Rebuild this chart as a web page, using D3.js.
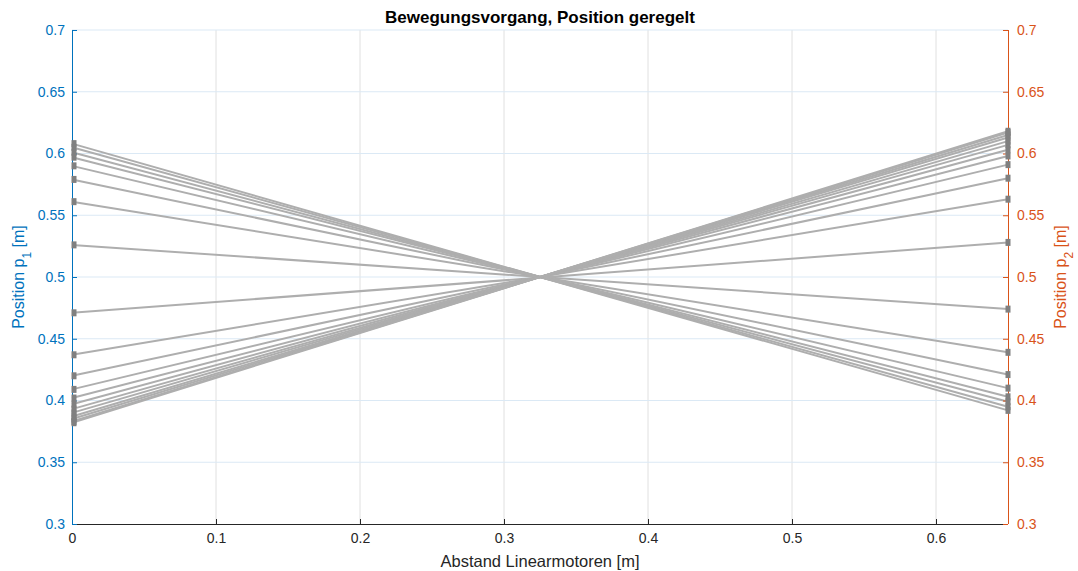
<!DOCTYPE html>
<html>
<head>
<meta charset="utf-8">
<script src="https://cdn.jsdelivr.net/npm/d3@7"></script>
<style>
  body { margin: 0; background: #fff; }
  svg { display: block; font-family: "Liberation Sans", Arial, Helvetica, sans-serif; }
</style>
</head>
<body>
<svg id="chart" width="1078" height="571"></svg>
<script>
// Motor distance (x) and start positions p1 of each run; p2 mirrors p1 about 0.5
const distance = [0, 0.65];
const p1Start = [0.608, 0.605, 0.601, 0.597, 0.590, 0.579, 0.561, 0.526,
                 0.471, 0.437, 0.420, 0.409, 0.402, 0.397, 0.393, 0.390,
                 0.387, 0.385, 0.383, 0.382];
const p2End = [0.392, 0.395, 0.399, 0.403, 0.410, 0.421, 0.439, 0.474,
               0.528, 0.563, 0.580, 0.591, 0.598, 0.603, 0.607, 0.610,
               0.613, 0.615, 0.617, 0.618];
const xTicks = [0, 0.1, 0.2, 0.3, 0.4, 0.5, 0.6];
const yTicks = [0.3, 0.35, 0.4, 0.45, 0.5, 0.55, 0.6, 0.65, 0.7];

const W = 1078, H = 571;
const m = { left: 72, right: 70, top: 30, bottom: 47 };
const iw = W - m.left - m.right, ih = H - m.top - m.bottom;

const blue = "#0072BD", orange = "#D95319", dark = "#262626";

const svg = d3.select("#chart");
const g = svg.append("g").attr("transform", `translate(${m.left},${m.top})`);

const x = d3.scaleLinear().domain([0, 0.65]).range([0, iw]);
const yL = d3.scaleLinear().domain([0.3, 0.7]).range([ih, 0]);
const yR = d3.scaleLinear().domain([0.3, 0.7]).range([ih, 0]);

// grid
g.append("g").selectAll("line").data(xTicks.filter(d => d > 0)).join("line")
  .attr("x1", d => x(d)).attr("x2", d => x(d)).attr("y1", 0).attr("y2", ih)
  .attr("stroke", "#e0e0e0").attr("stroke-width", 1);
g.append("g").selectAll("line").data(yTicks.filter(d => d > 0.3)).join("line")
  .attr("x1", 0).attr("x2", iw).attr("y1", d => yL(d)).attr("y2", d => yL(d))
  .attr("stroke", "#dbe9f5").attr("stroke-width", 1);

// trajectories
const runs = p1Start.map((p, i) => [[distance[0], p], [distance[1], p2End[i]]]);
g.append("g").selectAll("line").data(runs).join("line")
  .attr("x1", d => x(d[0][0])).attr("y1", d => yL(d[0][1]))
  .attr("x2", d => x(d[1][0])).attr("y2", d => yR(d[1][1]))
  .attr("stroke", "#aeaeae").attr("stroke-width", 2);

// axes
const fs = "14px";
const xAxis = g.append("g").attr("transform", `translate(0,${ih})`)
  .call(d3.axisBottom(x).tickValues(xTicks).tickSize(-5).tickPadding(9).tickFormat(d3.format("")));
xAxis.select(".domain").attr("stroke", dark).attr("d", `M0,0.5H${iw}`);
xAxis.selectAll(".tick line").attr("stroke", dark);
xAxis.selectAll("text").attr("fill", dark).style("font-size", fs);

const yAxisL = g.append("g")
  .call(d3.axisLeft(yL).tickValues(yTicks).tickSize(-5).tickPadding(7).tickFormat(d3.format("")));
yAxisL.select(".domain").attr("stroke", blue).attr("d", `M0.5,0V${ih}`);
yAxisL.selectAll(".tick line").attr("stroke", blue);
yAxisL.selectAll("text").attr("fill", blue).style("font-size", fs);

const yAxisR = g.append("g").attr("transform", `translate(${iw},0)`)
  .call(d3.axisRight(yR).tickValues(yTicks).tickSize(-5).tickPadding(9).tickFormat(d3.format("")));
yAxisR.select(".domain").attr("stroke", orange).attr("d", `M0.5,0V${ih}`);
yAxisR.selectAll(".tick line").attr("stroke", orange);
yAxisR.selectAll("text").attr("fill", orange).style("font-size", fs);

// endpoint markers, on top of the axis lines
const ends = runs.flatMap(d => [{ x: d[0][0], y: yL(d[0][1]) }, { x: d[1][0], y: yR(d[1][1]) }]);
g.append("g").selectAll("rect").data(ends).join("rect")
  .attr("x", d => x(d.x) - 2.5 + (d.x === 0 ? 2 : 0)).attr("y", d => d.y - 3.5)
  .attr("width", 5).attr("height", 7)
  .attr("fill", "#808080");

// labels
svg.append("text").attr("x", m.left + iw / 2).attr("y", 23).attr("text-anchor", "middle")
  .style("font-size", "17px").style("font-weight", "bold").attr("fill", "#000")
  .text("Bewegungsvorgang, Position geregelt");

svg.append("text").attr("x", m.left + iw / 2).attr("y", 567).attr("text-anchor", "middle")
  .style("font-size", "16.5px").attr("fill", dark)
  .text("Abstand Linearmotoren [m]");

const yl = svg.append("text").attr("transform", `translate(24,${m.top + ih / 2}) rotate(-90)`)
  .attr("text-anchor", "middle").style("font-size", "16px").attr("fill", blue);
yl.append("tspan").text("Position p");
yl.append("tspan").attr("baseline-shift", "sub").style("font-size", "12px").text("1");
yl.append("tspan").text(" [m]");

const yr = svg.append("text").attr("transform", `translate(1066,${m.top + ih / 2}) rotate(-90)`)
  .attr("text-anchor", "middle").style("font-size", "16px").attr("fill", orange);
yr.append("tspan").text("Position p");
yr.append("tspan").attr("baseline-shift", "sub").style("font-size", "12px").text("2");
yr.append("tspan").text(" [m]");
</script>
</body>
</html>
